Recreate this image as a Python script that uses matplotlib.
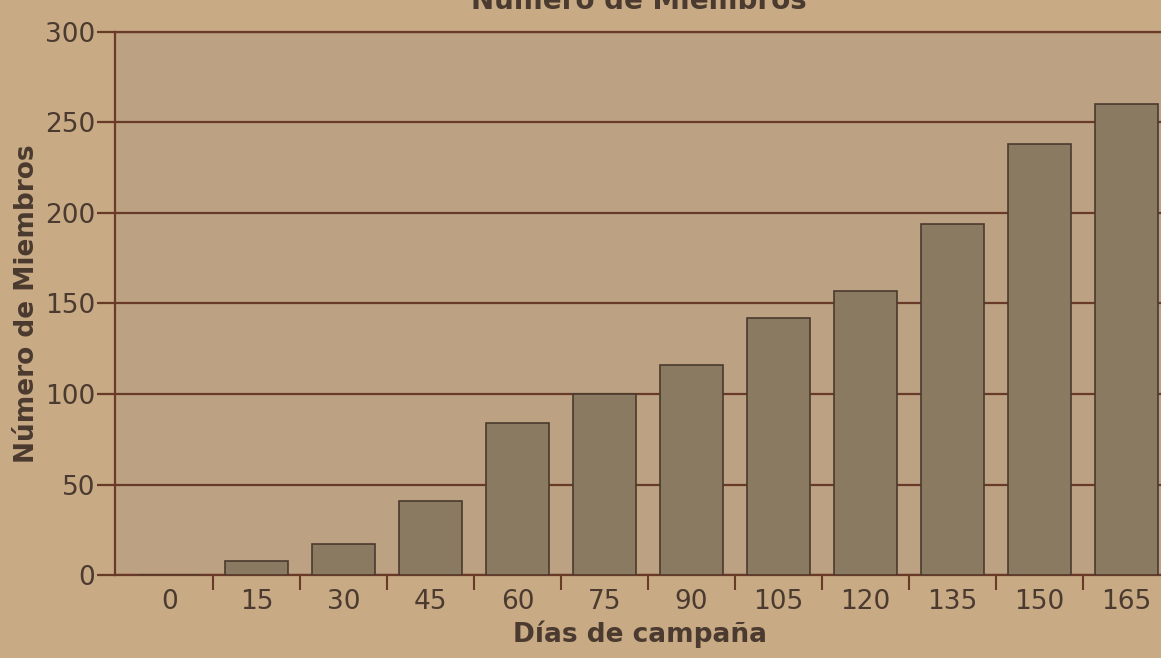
import numpy as np
import matplotlib.pyplot as plt

# Número de Miembros vs. días de campaña
dias = [0, 15, 30, 45, 60, 75, 90, 105, 120, 135, 150, 165]
miembros = [0, 8, 17, 41, 84, 100, 116, 142, 157, 194, 238, 260]
yticks = [0, 50, 100, 150, 200, 250, 300]

paper = '#c8aa84'
plot_bg = '#bca283'
bar_col = '#8a7a61'
line_col = '#6a3a28'
text_col = '#4a3a2f'

plt.rcParams['font.family'] = ['DejaVu Sans']

fig = plt.figure(figsize=(11.61, 6.58), dpi=100, facecolor=paper)
ax = fig.add_axes([0.099, 0.126, 0.905, 0.826])
ax.set_facecolor(plot_bg)

x = np.arange(len(dias))
ax.bar(x, miembros, width=0.73, color=bar_col, edgecolor='#4a3a2e',
       linewidth=1.2, zorder=3)

ax.set_xlim(-0.63, 11.45)
ax.set_ylim(0, 300)

ax.set_yticks(yticks)
ax.yaxis.grid(True, color=line_col, linewidth=1.6, zorder=1)
ax.set_axisbelow(True)

ax.set_xticks(x, [str(d) for d in dias])
ax.set_xticks(x[1:] - 0.5, minor=True)
ax.tick_params(axis='x', which='major', length=0, pad=10,
               labelsize=19, labelcolor=text_col)
ax.tick_params(axis='x', which='minor', length=11, width=1.5,
               color=line_col, direction='out')
ax.tick_params(axis='y', length=13, width=1.6, color=line_col,
               labelsize=19, labelcolor=text_col, pad=1)

for side in ['left', 'bottom', 'top']:
    ax.spines[side].set_color(line_col)
    ax.spines[side].set_linewidth(1.6)
ax.spines['right'].set_visible(False)

ax.set_xlabel('Días de campaña', fontsize=19, fontweight='bold',
              color=text_col, labelpad=4)
ax.set_ylabel('Número de Miembros', fontsize=19, fontweight='bold',
              color=text_col, labelpad=4)

fig.text(0.55, 0.998, 'Número de Miembros', fontsize=20, fontweight='bold',
         color=text_col, ha='center', va='center')

fig.savefig('out.png', dpi=100, facecolor=paper)
